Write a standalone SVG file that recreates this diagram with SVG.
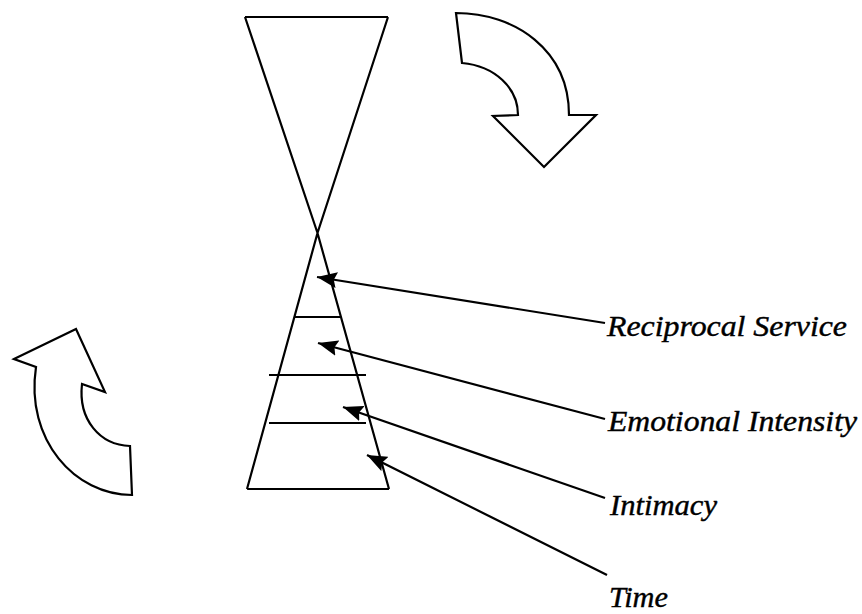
<svg xmlns="http://www.w3.org/2000/svg" width="862" height="614" viewBox="0 0 862 614">
<style>
.ln{fill:none;stroke:#000;stroke-width:2.2;stroke-linejoin:miter}
.shape{fill:#fff;stroke:#000;stroke-width:2.2;stroke-linejoin:miter}
.con{fill:none;stroke:#000;stroke-width:2.2}
.lbl{font-family:"Liberation Serif","Times New Roman",serif;font-style:italic;font-size:29px;fill:#000;stroke:#000;stroke-width:0.4}
</style>
<defs>
<marker id="ah" viewBox="0 0 20 16" refX="20" refY="8" markerWidth="20" markerHeight="16" markerUnits="userSpaceOnUse" orient="auto">
<path d="M0,0 L20,8 L0,16 L3,8 z" fill="#000"/>
</marker>
</defs>
<rect width="862" height="614" fill="#fff"/>
<g id="hourglass">
<path class="ln" d="M245,17 L388,17 M245,17 L317.5,233 L389,489 M388,17 L317.5,233 L247,489 M247,489 L389,489"/>
</g>
<g id="bands">
<line class="ln" x1="295" y1="317" x2="340" y2="317"/>
<line class="ln" x1="269" y1="375" x2="366" y2="375"/>
<line class="ln" x1="269" y1="423" x2="366" y2="423"/>
</g>
<g id="arrow-top-right">
<path class="shape" d="M456,13 L462,63 C495,66 518,88 518,115 L493,116 L544,167 L596,115 L569,115 C569,50 515,13 456,13 Z"/>
</g>
<g id="arrow-bottom-left">
<path class="shape" d="M14,359 L76,329 L105,392 L82,384 C78,420 100,445 130,446 L132,495 C75,495 25,440 36,367 Z"/>
</g>
<g id="connectors">
<line class="con" x1="605" y1="323" x2="317" y2="277" marker-end="url(#ah)"/>
<line class="con" x1="605" y1="419" x2="318" y2="343" marker-end="url(#ah)"/>
<line class="con" x1="605" y1="498" x2="343" y2="407" marker-end="url(#ah)"/>
<line class="con" x1="607" y1="575" x2="367" y2="455" marker-end="url(#ah)"/>
</g>
<g id="label-reciprocal"><text class="lbl" x="607" y="336" textLength="240" lengthAdjust="spacingAndGlyphs">Reciprocal Service</text></g>
<g id="label-emotional"><text class="lbl" x="608" y="431" textLength="249" lengthAdjust="spacingAndGlyphs">Emotional Intensity</text></g>
<g id="label-intimacy"><text class="lbl" x="610" y="515" textLength="107" lengthAdjust="spacingAndGlyphs">Intimacy</text></g>
<g id="label-time"><text class="lbl" x="609" y="607" textLength="59" lengthAdjust="spacingAndGlyphs">Time</text></g>
</svg>
